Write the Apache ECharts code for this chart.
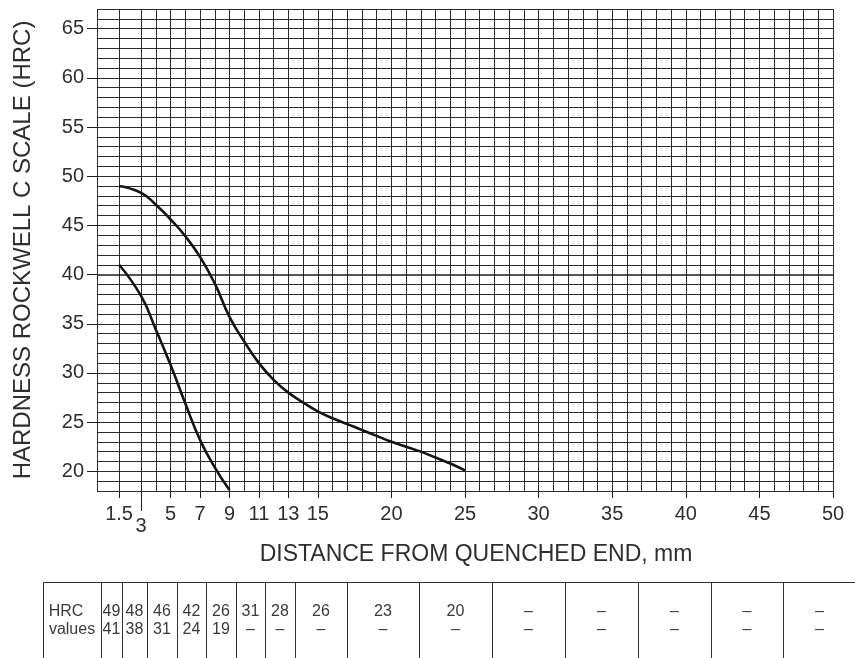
<!DOCTYPE html>
<html>
<head>
<meta charset="utf-8">
<title>Jominy hardness curve</title>
<script src="https://cdn.jsdelivr.net/npm/echarts@6/dist/echarts.min.js"></script>
<style>
  html, body { margin: 0; padding: 0; background: #fff; }
  #chart { width: 855px; height: 658px; }
</style>
</head>
<body>
<div id="chart"></div>
<script>
// Axis tick labels
const distanceTicks = [1.5, 5, 7, 9, 11, 13, 15, 20, 25, 30, 35, 40, 45, 50];
const distanceTickLow = [3];            // drawn on a lower row to keep it clear of 1.5
const hardnessTicks = [20, 25, 30, 35, 40, 45, 50, 55, 60, 65];

// Upper band curve (distance in mm, HRC)
const upperDistance = [1.5, 3, 4, 5, 6, 7, 8, 9, 10, 11, 12, 13, 14, 15, 16, 17, 18, 19, 20, 21, 22, 23, 24, 25];
const upperHRC      = [49.0, 48.3, 47.1, 45.6, 43.9, 41.8, 39.1, 35.7, 33.2, 31.0, 29.3, 28.0, 27.0, 26.1, 25.4, 24.8, 24.2, 23.6, 23.0, 22.5, 22.0, 21.4, 20.8, 20.1];

// Lower band curve
const lowerDistance = [1.5, 3, 4, 5, 6, 7, 8, 9];
const lowerHRC      = [41.0, 37.8, 34.4, 30.8, 26.9, 23.2, 20.4, 18.1];

// Table under the chart
const tableHeader = ['HRC', 'values'];
const tableUpper = ['49', '48', '46', '42', '26', '31', '28', '26', '23', '20', '–', '–', '–', '–', '–'];
const tableLower = ['41', '38', '31', '24', '19', '–', '–', '–', '–', '–', '–', '–', '–', '–', '–'];

// Chart paper grid: every 1 mm (plus 1.5 mm) and every 1 HRC
const gridX = [0, 1.5];
for (let d = 3; d <= 50; d++) gridX.push(d);
const gridY = [];
for (let h = 18; h <= 67; h++) gridY.push(h);

// ---- layout ----
const FONT = "'Liberation Sans', Arial, Helvetica, sans-serif";
const TEXT = '#2e2e2e';
const INK = '#1c1c1c';
const tableEdges = [43, 101, 122, 147, 177, 206, 236, 265, 295, 347, 419, 492, 565, 638, 711, 783, 856];
const tableTop = 582;
const row1Y = 612;
const row2Y = 630;

const chart = echarts.init(document.getElementById('chart'), null, { renderer: 'canvas' });

const gridLines = gridX.map(v => ({ xAxis: v }))
  .concat(gridY.map(v => v === 40
    ? { yAxis: v, lineStyle: { width: 1.5, color: INK } }
    : { yAxis: v }));

// Table graphics
const tableGraphics = [];
tableGraphics.push({
  type: 'line', silent: true,
  shape: { x1: tableEdges[0], y1: tableTop + 0.5, x2: 855, y2: tableTop + 0.5 },
  style: { stroke: '#333', lineWidth: 1 }
});
tableEdges.forEach(x => {
  tableGraphics.push({
    type: 'line', silent: true,
    shape: { x1: x + 0.5, y1: tableTop, x2: x + 0.5, y2: 658 },
    style: { stroke: '#333', lineWidth: 1 }
  });
});
const cellText = (x, y, s) => ({
  type: 'text', silent: true, x: x, y: y,
  style: { text: s, fill: '#3a3a3a', font: '16px ' + FONT, align: 'center', verticalAlign: 'middle' }
});
tableGraphics.push(cellText((tableEdges[0] + tableEdges[1]) / 2 - 6, row1Y, tableHeader[0]));
tableGraphics.push(cellText((tableEdges[0] + tableEdges[1]) / 2, row2Y, tableHeader[1]));
tableUpper.forEach((s, i) => {
  const cx = (tableEdges[i + 1] + tableEdges[i + 2]) / 2;
  tableGraphics.push(cellText(cx, row1Y, s));
  tableGraphics.push(cellText(cx, row2Y, tableLower[i]));
});

const labelStyle = { color: TEXT, fontSize: 20, fontFamily: FONT };

chart.setOption({
  animation: false,
  backgroundColor: '#fff',
  grid: { left: 97, right: 22, top: 9, bottom: 167 },
  xAxis: [
    {
      type: 'value', min: 0, max: 50, position: 'bottom',
      name: 'DISTANCE FROM QUENCHED END, mm',
      nameLocation: 'middle', nameGap: 52,
      nameTextStyle: { color: TEXT, fontSize: 23, fontFamily: FONT, padding: [0, 0, 0, 22] },
      axisLine: { show: false },
      splitLine: { show: false },
      axisTick: { show: true, customValues: distanceTicks, length: 7, lineStyle: { color: INK, width: 1 } },
      axisLabel: { show: true, customValues: distanceTicks, margin: 13, ...labelStyle }
    },
    {
      type: 'value', min: 0, max: 50, position: 'bottom',
      axisLine: { show: false },
      splitLine: { show: false },
      axisTick: { show: true, customValues: distanceTickLow, length: 20, lineStyle: { color: INK, width: 1 } },
      axisLabel: { show: true, customValues: distanceTickLow, margin: 25, ...labelStyle }
    }
  ],
  yAxis: {
    type: 'value', min: 18, max: 67,
    name: 'HARDNESS ROCKWELL C SCALE (HRC)',
    nameLocation: 'middle', nameGap: 62,
    nameTextStyle: { color: TEXT, fontSize: 24, fontFamily: FONT },
    axisLine: { show: false },
    splitLine: { show: false },
    axisTick: { show: true, customValues: hardnessTicks, length: 10, lineStyle: { color: INK, width: 1 } },
    axisLabel: { show: true, customValues: hardnessTicks, margin: 13, ...labelStyle }
  },
  graphic: tableGraphics,
  series: [
    {
      // paper grid
      type: 'line', data: [], silent: true, z: 1,
      markLine: {
        silent: true, animation: false,
        symbol: ['none', 'none'],
        label: { show: false },
        emphasis: { disabled: true },
        lineStyle: { color: '#2b2b2b', width: 1, type: 'solid' },
        data: gridLines
      }
    },
    {
      name: 'upper', type: 'line', z: 5, smooth: 0.5, showSymbol: false, symbol: 'none',
      lineStyle: { color: '#141414', width: 2.6 },
      data: upperDistance.map((d, i) => [d, upperHRC[i]])
    },
    {
      name: 'lower', type: 'line', z: 5, smooth: 0.5, showSymbol: false, symbol: 'none',
      lineStyle: { color: '#141414', width: 2.6 },
      data: lowerDistance.map((d, i) => [d, lowerHRC[i]])
    }
  ]
});
</script>
</body>
</html>
